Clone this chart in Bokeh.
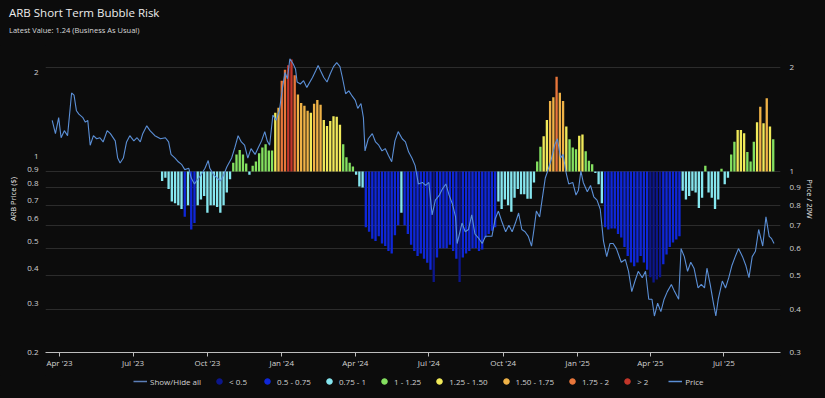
import pandas as pd
from bokeh.plotting import figure
from bokeh.layouts import column
from bokeh.models import (Range1d, LogScale, LogAxis, FixedTicker, CustomJSTickFormatter,
                          MonthsTicker, DatetimeTickFormatter, ColumnDataSource, Legend,
                          LegendItem, Div)
from bokeh.embed import file_html
from bokeh.resources import INLINE

# ---------------- data ----------------
price_dates = [
    "2023-03-23", "2023-03-27", "2023-03-31", "2023-04-03", "2023-04-07", "2023-04-11", "2023-04-16", "2023-04-19", "2023-04-22", "2023-04-25",
    "2023-04-30", "2023-05-03", "2023-05-06", "2023-05-09", "2023-05-13", "2023-05-17", "2023-05-21", "2023-05-25", "2023-05-30", "2023-06-03",
    "2023-06-09", "2023-06-12", "2023-06-15", "2023-06-19", "2023-06-23", "2023-06-27", "2023-07-02", "2023-07-06", "2023-07-10", "2023-07-13",
    "2023-07-18", "2023-07-22", "2023-07-28", "2023-08-04", "2023-08-10", "2023-08-14", "2023-08-17", "2023-08-22", "2023-08-26", "2023-08-30",
    "2023-09-03", "2023-09-08", "2023-09-11", "2023-09-15", "2023-09-24", "2023-09-28", "2023-10-02", "2023-10-04", "2023-10-09", "2023-10-13",
    "2023-10-17", "2023-10-21", "2023-10-25", "2023-10-31", "2023-11-04", "2023-11-08", "2023-11-12", "2023-11-16", "2023-11-20", "2023-11-24",
    "2023-11-29", "2023-12-03", "2023-12-07", "2023-12-11", "2023-12-14", "2023-12-17", "2023-12-21", "2023-12-25", "2023-12-29", "2024-01-02",
    "2024-01-05", "2024-01-08", "2024-01-11", "2024-01-15", "2024-01-18", "2024-01-20", "2024-01-24", "2024-01-28", "2024-02-01", "2024-02-08",
    "2024-02-12", "2024-02-15", "2024-02-18", "2024-02-22", "2024-02-26", "2024-03-01", "2024-03-05", "2024-03-09", "2024-03-13", "2024-03-16",
    "2024-03-20", "2024-03-24", "2024-03-28", "2024-04-01", "2024-04-04", "2024-04-08", "2024-04-11", "2024-04-13", "2024-04-17", "2024-04-22",
    "2024-04-26", "2024-04-30", "2024-05-04", "2024-05-08", "2024-05-12", "2024-05-16", "2024-05-20", "2024-05-24", "2024-05-29", "2024-06-02",
    "2024-06-06", "2024-06-10", "2024-06-14", "2024-06-18", "2024-06-23", "2024-06-27", "2024-07-01", "2024-07-05", "2024-07-09", "2024-07-14",
    "2024-07-18", "2024-07-22", "2024-07-26", "2024-07-30", "2024-08-03", "2024-08-05", "2024-08-11", "2024-08-15", "2024-08-19", "2024-08-23",
    "2024-08-27", "2024-09-01", "2024-09-05", "2024-09-09", "2024-09-13", "2024-09-17", "2024-09-21", "2024-09-25", "2024-09-29", "2024-10-04",
    "2024-10-08", "2024-10-12", "2024-10-16", "2024-10-20", "2024-10-24", "2024-10-28", "2024-11-01", "2024-11-05", "2024-11-08", "2024-11-11",
    "2024-11-15", "2024-11-18", "2024-11-22", "2024-11-25", "2024-11-29", "2024-12-04", "2024-12-07", "2024-12-11", "2024-12-14", "2024-12-18",
    "2024-12-21", "2024-12-26", "2024-12-30", "2025-01-02", "2025-01-05", "2025-01-08", "2025-01-13", "2025-01-17", "2025-01-21", "2025-01-25",
    "2025-01-29", "2025-02-02", "2025-02-06", "2025-02-10", "2025-02-14", "2025-02-18", "2025-02-24", "2025-03-01", "2025-03-05", "2025-03-09",
    "2025-03-13", "2025-03-17", "2025-03-22", "2025-03-26", "2025-03-30", "2025-04-03", "2025-04-06", "2025-04-10", "2025-04-14", "2025-04-18",
    "2025-04-22", "2025-04-27", "2025-05-01", "2025-05-06", "2025-05-09", "2025-05-13", "2025-05-17", "2025-05-21", "2025-05-25", "2025-05-30",
    "2025-06-03", "2025-06-07", "2025-06-10", "2025-06-14", "2025-06-18", "2025-06-21", "2025-06-24", "2025-06-29", "2025-07-03", "2025-07-07",
    "2025-07-11", "2025-07-15", "2025-07-19", "2025-07-24", "2025-07-28", "2025-08-01", "2025-08-05", "2025-08-09", "2025-08-13", "2025-08-18",
    "2025-08-22", "2025-08-26", "2025-08-29", "2025-09-01",
]
price_values = [
    1.35, 1.21, 1.38, 1.17, 1.24, 1.19, 1.69, 1.66, 1.46, 1.42,
    1.38, 1.33, 1.35, 1.10, 1.19, 1.16, 1.17, 1.13, 1.24, 1.21,
    1.14, 0.99, 0.95, 0.99, 1.13, 1.19, 1.14, 1.17, 1.13, 1.21,
    1.29, 1.24, 1.19, 1.16, 1.17, 1.13, 1.02, 0.99, 0.96, 0.94,
    0.90, 0.91, 0.84, 0.80, 0.87, 0.91, 0.97, 0.91, 0.86, 0.84,
    0.82, 0.86, 0.92, 0.99, 1.08, 1.19, 1.13, 1.10, 0.99, 1.07,
    1.02, 1.08, 1.14, 1.23, 1.14, 1.10, 1.41, 1.35, 1.46, 1.77,
    2.00, 1.90, 2.24, 2.15, 2.06, 1.85, 1.82, 1.87, 1.77, 1.92,
    2.03, 2.12, 2.03, 1.92, 1.85, 1.98, 2.10, 2.17, 2.10, 1.92,
    1.68, 1.72, 1.65, 1.59, 1.49, 1.55, 1.38, 1.05, 1.16, 1.21,
    1.13, 1.10, 1.05, 1.07, 1.01, 0.96, 1.14, 1.23, 1.16, 1.13,
    1.04, 0.99, 0.93, 0.80, 0.81, 0.79, 0.81, 0.62, 0.70, 0.73,
    0.77, 0.80, 0.73, 0.68, 0.61, 0.49, 0.58, 0.54, 0.55, 0.62,
    0.53, 0.51, 0.49, 0.52, 0.52, 0.52, 0.60, 0.64, 0.59, 0.54,
    0.57, 0.54, 0.58, 0.63, 0.55, 0.54, 0.52, 0.48, 0.55, 0.64,
    0.61, 0.70, 0.84, 0.89, 0.97, 1.11, 1.16, 0.99, 1.02, 0.87,
    0.80, 0.81, 0.73, 0.76, 0.89, 0.81, 0.75, 0.79, 0.72, 0.70,
    0.65, 0.50, 0.44, 0.49, 0.49, 0.47, 0.42, 0.43, 0.39, 0.33,
    0.36, 0.39, 0.37, 0.39, 0.31, 0.31, 0.27, 0.30, 0.28, 0.31,
    0.33, 0.35, 0.33, 0.31, 0.47, 0.44, 0.39, 0.42, 0.40, 0.34,
    0.35, 0.34, 0.40, 0.35, 0.30, 0.27, 0.31, 0.36, 0.34, 0.37,
    0.41, 0.44, 0.47, 0.44, 0.41, 0.37, 0.44, 0.46, 0.55, 0.48,
    0.61, 0.52, 0.51, 0.49,
]

# Price / 20W ratio, one bar every 4 days from the first bar date
ratio_start = "2023-08-06"
ratio_step_days = 4
ratio_values = [
    0.94, 0.96, 0.89, 0.82, 0.81, 0.80, 0.78, 0.74, 0.80, 0.68,
    0.71, 0.80, 0.83, 0.85, 0.76, 0.80, 0.80, 0.79, 0.76, 0.80,
    0.87, 0.95, 1.06, 1.12, 1.155, 1.12, 1.055, 0.98, 1.04, 1.07,
    1.13, 1.175, 1.20, 1.15, 1.15, 1.48, 1.53, 1.83, 1.97, 2.03,
    2.11, 1.90, 1.67, 1.58, 1.55, 1.50, 1.48, 1.57, 1.61, 1.56,
    1.41, 1.355, 1.40, 1.445, 1.44, 1.365, 1.20, 1.10, 1.06, 1.035,
    0.98, 0.905, 0.90, 0.69, 0.67, 0.64, 0.63, 0.65, 0.62, 0.61,
    0.59, 0.58, 0.655, 0.70, 0.76, 0.70, 0.66, 0.615, 0.59, 0.57,
    0.58, 0.56, 0.545, 0.52, 0.48, 0.565, 0.60, 0.60, 0.60, 0.615,
    0.59, 0.56, 0.48, 0.565, 0.58, 0.59, 0.60, 0.60, 0.59, 0.595,
    0.645, 0.66, 0.675, 0.69, 0.82, 0.78, 0.83, 0.80, 0.765, 0.84,
    0.89, 0.86, 0.86, 0.835, 0.835, 0.93, 1.07, 1.18, 1.265, 1.41,
    1.60, 1.64, 1.88, 1.69, 1.60, 1.35, 1.24, 1.175, 1.16, 1.27,
    1.28, 1.145, 1.075, 1.05, 0.99, 0.92, 0.81, 0.69, 0.68, 0.685,
    0.685, 0.66, 0.645, 0.605, 0.57, 0.546, 0.533, 0.546, 0.57, 0.546,
    0.52, 0.495, 0.478, 0.488, 0.495, 0.54, 0.576, 0.605, 0.624, 0.636,
    0.65, 0.88, 0.83, 0.85, 0.88, 0.87, 0.785, 0.84, 1.04, 0.87,
    0.84, 0.78, 0.83, 1.02, 0.92, 0.96, 1.12, 1.22, 1.32, 1.32,
    1.29, 1.14, 1.07, 1.22, 1.39, 1.54, 1.38, 1.63, 1.35, 1.24,
]

band_edges = [0.5, 0.75, 1.0, 1.25, 1.5, 1.75, 2.0]
band_labels = ["< 0.5", "0.5 - 0.75", "0.75 - 1", "1 - 1.25", "1.25 - 1.50",
               "1.50 - 1.75", "1.75 - 2", "> 2"]
band_colors = ["#0c168c", "#0f27d8", "#86e6ef", "#84e060", "#f1ea5a",
               "#efb247", "#e8763b", "#c3362a"]

left_ticks = [0.2, 0.3, 0.4, 0.5, 0.6, 0.7, 0.8, 0.9, 1, 2]
right_ticks = [0.3, 0.4, 0.5, 0.6, 0.7, 0.8, 0.9, 1, 2]

title_text = "ARB Short Term Bubble Risk"
subtitle_text = "Latest Value: 1.24 (Business As Usual)"

# ---------------- styling ----------------
BG = "#0c0c0c"
TXT = "#d2d2d2"
PRICE_COLOR = "#5b8fd6"
FONT = "Open Sans"
W = 825
H_TOP = 45
H_MAIN = 330
H_LEG = 23


def band_color(v):
    for edge, col in zip(band_edges, band_colors):
        if v < edge:
            return col
    return band_colors[-1]


price_src = ColumnDataSource(dict(date=pd.to_datetime(price_dates), price=price_values))
ratio_dates = pd.date_range(ratio_start, periods=len(ratio_values), freq=f"{ratio_step_days}D")
ratio_src = ColumnDataSource(dict(date=ratio_dates, ratio=ratio_values,
                                  color=[band_color(v) for v in ratio_values]))

x_start = pd.Timestamp("2023-03-14 17:00")
x_end = pd.Timestamp("2025-09-09")

# ---------------- title block ----------------
title_html = (
    f'<div style="position:relative;width:{W}px;height:{H_TOP}px;font-family:\'{FONT}\';">'
    f'<div style="position:absolute;left:9px;top:5px;font-size:11.5px;line-height:16px;'
    f'color:#ececec;white-space:nowrap;">{title_text}</div>'
    f'<div style="position:absolute;left:9px;top:25px;font-size:7.5px;line-height:10px;'
    f'color:#d8d8d8;white-space:nowrap;">{subtitle_text}</div></div>'
)
tf = Div(text=title_html, width=W, height=H_TOP, margin=0,
         styles={"background-color": BG})

# ---------------- main chart ----------------
p = figure(width=W, height=H_MAIN, x_axis_type="datetime", y_axis_type="log",
           y_axis_location="right", output_backend="svg", toolbar_location=None,
           title=None,
           x_range=Range1d(x_start, x_end), y_range=Range1d(0.3, 2.315),
           background_fill_color=BG, border_fill_color=BG, outline_line_color=None,
           min_border_left=45, min_border_right=45, min_border_top=0, min_border_bottom=23,
           styles={"background-color": BG})
p.extra_y_ranges = {"price": Range1d(0.2, 2.498)}
p.extra_y_scales = {"price": LogScale()}

fmt_code = "return String(Math.round(tick * 10) / 10);"

ra = p.yaxis[0]
ra.ticker = FixedTicker(ticks=right_ticks)
ra.formatter = CustomJSTickFormatter(code=fmt_code)
ra.axis_label = "Price / 20W"

la = LogAxis(y_range_name="price", ticker=FixedTicker(ticks=left_ticks),
             formatter=CustomJSTickFormatter(code=fmt_code), axis_label="ARB Price ($)")
p.add_layout(la, "left")

for ax in (ra, la):
    ax.axis_line_color = None
    ax.major_tick_line_color = None
    ax.minor_tick_line_color = None
    ax.major_tick_out = 0
    ax.major_tick_in = 0
    ax.minor_tick_out = 0
    ax.major_label_text_color = TXT
    ax.major_label_text_font_size = "8px"
    ax.major_label_text_font = FONT
    ax.axis_label_text_color = "#e6e6e6"
    ax.axis_label_text_font_size = "7.5px"
    ax.axis_label_text_font = FONT
    ax.axis_label_text_font_style = "normal"
la.major_label_standoff = 7
la.axis_label_standoff = 6
ra.major_label_standoff = 9
ra.axis_label_standoff = 1

xa = p.xaxis[0]
xa.ticker = MonthsTicker(months=[0, 3, 6, 9])
xa.formatter = DatetimeTickFormatter(months="%b '%y")
xa.axis_line_color = "#bdbdbd"
xa.major_tick_line_color = "#bdbdbd"
xa.major_tick_out = 4
xa.major_tick_in = 0
xa.minor_tick_line_color = None
xa.minor_tick_out = 0
xa.major_label_text_color = TXT
xa.major_label_text_font_size = "8px"
xa.major_label_text_font = FONT
xa.major_label_standoff = 0

p.xgrid.grid_line_color = None
p.ygrid.grid_line_color = "#2c2c2c"
p.ygrid.grid_line_width = 1
p.ygrid.minor_grid_line_color = None

p.vbar(x="date", top="ratio", bottom=1, width=ratio_step_days * 0.72 * 86400000,
       fill_color="color", line_color=None, source=ratio_src)

p.line(x="date", y="price", y_range_name="price", source=price_src,
       line_color=PRICE_COLOR, line_width=1.1)

# ---------------- legend strip ----------------
lf = figure(width=W, height=H_LEG, x_range=Range1d(0, 1), y_range=Range1d(0, 1),
            x_axis_location=None, y_axis_location=None, toolbar_location=None,
            output_backend="svg", min_border=0, title=None,
            background_fill_color=BG, border_fill_color=BG, outline_line_color=None,
            styles={"background-color": BG})
lf.xgrid.visible = False
lf.ygrid.visible = False

# icon-only renderers: their single point lies outside the strip's visible range
items = []
sh = lf.line(x=[-10, -9], y=[-10, -10], line_color="#5c7fb8", line_width=1.5)
items.append(LegendItem(label="Show/Hide all", renderers=[sh]))
for lab, col in zip(band_labels, band_colors):
    r = lf.scatter(x=[-10], y=[-10], marker="circle", size=7, fill_color=col, line_color=col)
    items.append(LegendItem(label=lab, renderers=[r]))
pl = lf.line(x=[-10, -9], y=[-10, -10], line_color=PRICE_COLOR, line_width=1.5)
items.append(LegendItem(label="Price", renderers=[pl]))

legend = Legend(items=items, orientation="horizontal", location=(88, 9),
                label_text_color=TXT, label_text_font_size="8px", label_text_font=FONT,
                background_fill_alpha=0, border_line_color=None,
                glyph_width=14, glyph_height=16, label_standoff=3, spacing=11,
                label_height=16, padding=0, margin=0)
lf.add_layout(legend, "center")

layout = column(tf, p, lf, spacing=0, styles={"background-color": BG})
html = file_html(layout, INLINE)
html = html.replace("<body>", '<body style="margin:0;background:%s;">' % BG, 1)
open("out.html", "w").write(html)
